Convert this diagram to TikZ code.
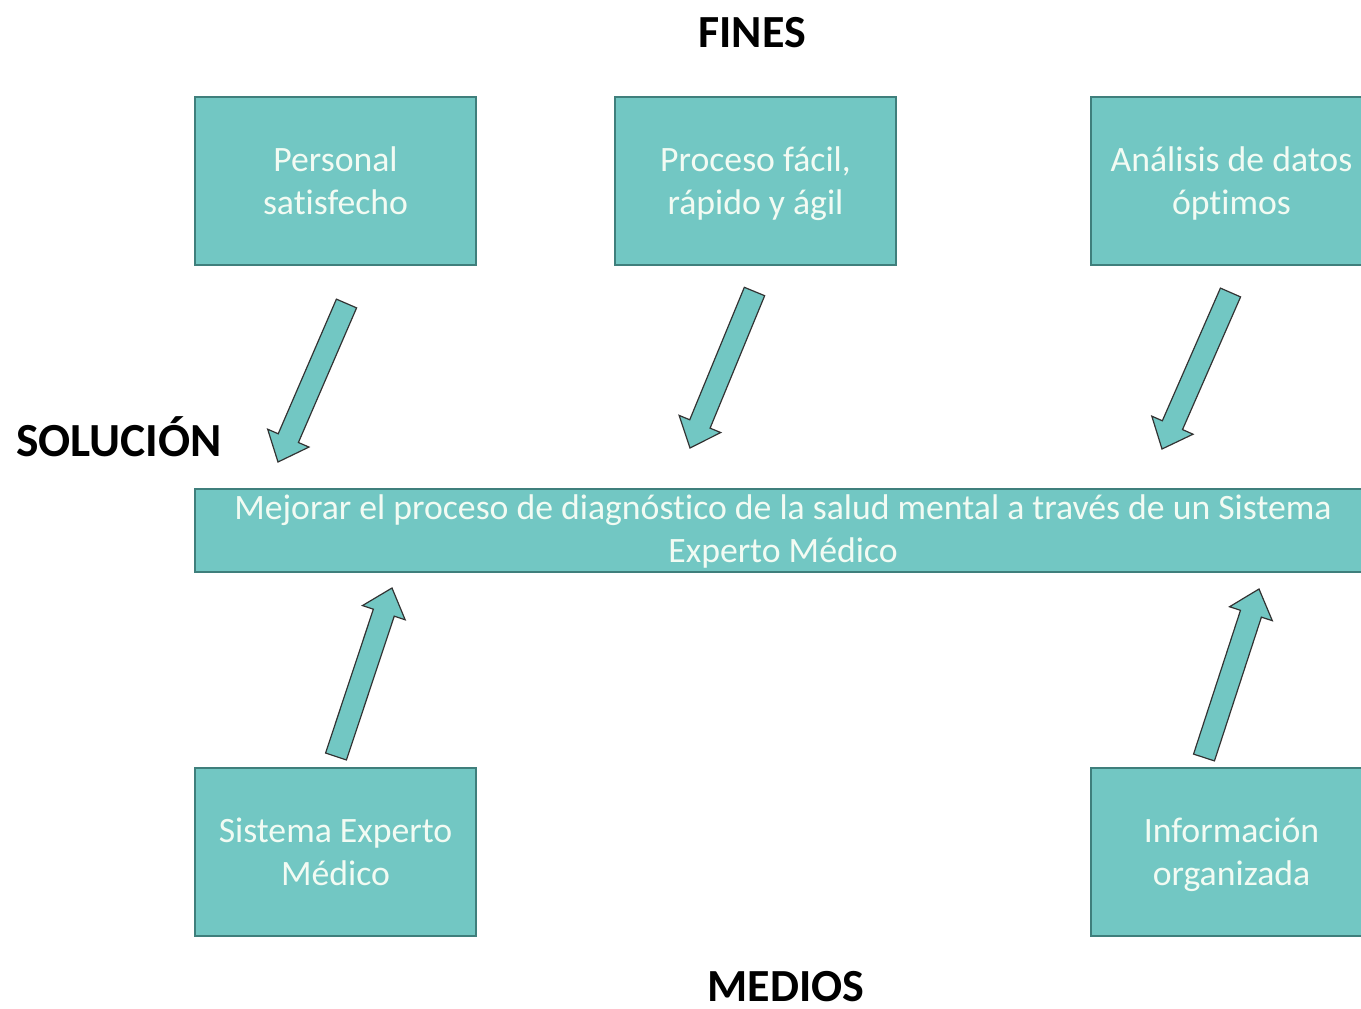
\documentclass[tikz,border=0pt]{standalone}
\usepackage{fontspec}
\setmainfont{Carlito}[Ligatures=NoCommon]
\usetikzlibrary{calc}
\definecolor{boxfill}{HTML}{72C7C3}
\definecolor{boxline}{HTML}{3F7F7C}
\definecolor{boxtext}{HTML}{F2FBF3}
\newcommand\lnstrut{\vphantom{Ágy}}
\tikzset{
  fin/.style={draw=boxline, line width=2pt, fill=boxfill, text=boxtext,
    minimum width=281pt, minimum height=168pt, inner sep=0pt, align=center,
    font=\fontsize{35.7}{43}\selectfont},
  solbox/.style={text=boxtext, inner sep=0pt, align=center,
    font=\fontsize{35.7}{43}\selectfont},
  title/.style={font=\fontsize{46}{52}\selectfont\bfseries, text=black, inner sep=0pt},
  blockarrow/.style={draw=black!80, line width=1.2pt, fill=boxfill, line join=miter},
}
\newcommand\blockarrow[2]{%
  \coordinate (hh) at ($(#2)!26pt!(#1)$);
  \path[blockarrow]
    ($(#1)!11pt!90:(#2)$) -- ($(hh)!11pt!90:(#2)$) -- ($(hh)!22.5pt!90:(#2)$)
    -- (#2) -- ($(hh)!22.5pt!-90:(#2)$) -- ($(hh)!11pt!-90:(#2)$)
    -- ($(#1)!11pt!-90:(#2)$) -- cycle;
}
\begin{document}
\begin{tikzpicture}[x=1pt,y=-1pt]
\useasboundingbox (0,0) rectangle (1361,1009);
% titles
\node[title] (fines) at (752,33) {FINES};
\node[title, anchor=west, font=\fontsize{47.5}{52}\selectfont\bfseries] (solucion) at (16,437) {SOLUCIÓN};
\node[title] (medios) at (786,987) {MEDIOS};
% top boxes
\node[fin] (f1) at (335.5,181) {\lnstrut Personal\\\lnstrut satisfecho};
\node[fin] (f2) at (755.5,181) {\lnstrut Proceso fácil,\\\lnstrut rápido y ágil};
\node[fin] (f3) at (1231.5,181) {\lnstrut Análisis de datos\\\lnstrut óptimos};
% solution box
\path[draw=boxline, line width=2pt, fill=boxfill] (195,489) rectangle (1371,572);
\node[solbox, anchor=north] (sol) at (783,495)
  {Mejorar el proceso de diagnóstico de la salud mental a través de un Sistema\\Experto Médico};
% bottom boxes
\node[fin] (m1) at (335.5,852) {\lnstrut Sistema Experto\\\lnstrut Médico};
\node[fin] (m2) at (1231.5,852) {\lnstrut Información\\\lnstrut organizada};
% arrow end points
\coordinate (a1t) at (346.5,303.5); \coordinate (a1h) at (278,462);
\coordinate (a2t) at (754.5,291.5); \coordinate (a2h) at (690,448);
\coordinate (a3t) at (1230.5,292.5); \coordinate (a3h) at (1162,449);
\coordinate (a4t) at (336,756.5); \coordinate (a4h) at (392,588);
\coordinate (a5t) at (1204,757.5); \coordinate (a5h) at (1259,589);
\blockarrow{a1t}{a1h}
\blockarrow{a2t}{a2h}
\blockarrow{a3t}{a3h}
\blockarrow{a4t}{a4h}
\blockarrow{a5t}{a5h}
\end{tikzpicture}
\end{document}
